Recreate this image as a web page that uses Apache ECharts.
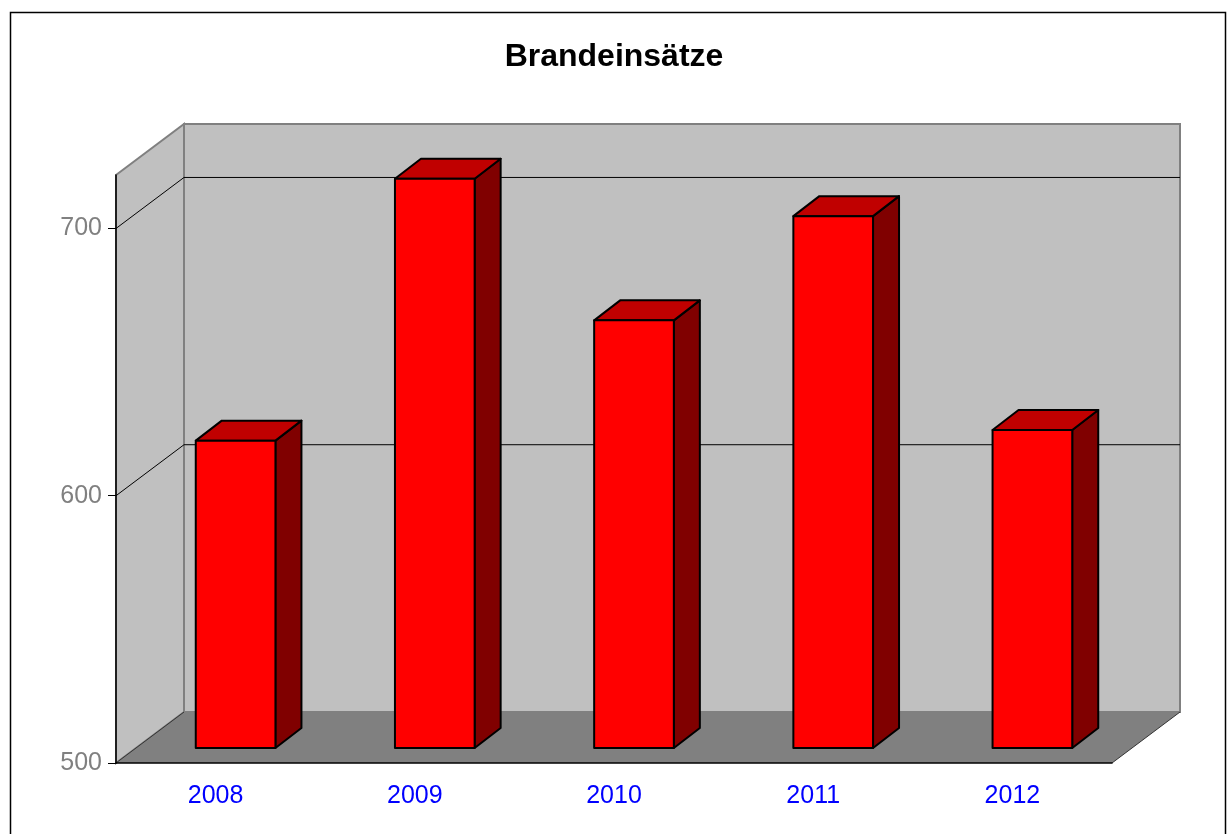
<!DOCTYPE html>
<html>
<head>
<meta charset="utf-8">
<script src="https://cdn.jsdelivr.net/npm/echarts@6/dist/echarts.min.js"></script>
<style>
html, body { margin: 0; padding: 0; background: #fff; }
#main { width: 1228px; height: 834px; }
</style>
</head>
<body>
<div id="main"></div>
<script>
var years = ['2008', '2009', '2010', '2011', '2012'];
var einsaetze = [615, 713, 660, 699, 619];
var yTicks = [500, 600, 700];
var yMin = 500, yMax = 720;

// depth of the 3d box (pixels)
var DX = 68, DY = -51;

function drawWalls(params, api)
{
    var cs = params.coordSys;
    var x0 = cs.x, x1 = cs.x + cs.width;
    var yT = cs.y, yB = cs.y + cs.height;
    var kids = [];
    // floor
    kids.push({type: 'polygon', shape: {points: [[x0, yB], [x1, yB], [x1 + DX, yB + DY], [x0 + DX, yB + DY]]},
        style: {fill: '#808080', stroke: null}});
    // left wall
    kids.push({type: 'polygon', shape: {points: [[x0, yT], [x0 + DX, yT + DY], [x0 + DX, yB + DY], [x0, yB]]},
        style: {fill: '#C0C0C0', stroke: '#808080', lineWidth: 2}});
    // back wall
    kids.push({type: 'rect', shape: {x: x0 + DX, y: yT + DY, width: cs.width, height: cs.height},
        style: {fill: '#C0C0C0', stroke: '#808080', lineWidth: 2}});
    // gridlines
    for (var i = 0; i < yTicks.length; i++) {
        if (yTicks[i] <= yMin) continue;
        var y = api.coord([0, yTicks[i]])[1];
        kids.push({type: 'line', shape: {x1: x0 + DX, y1: y + DY, x2: x1 + DX, y2: y + DY},
            style: {stroke: '#000', lineWidth: 1}});
        kids.push({type: 'line', shape: {x1: x0, y1: y, x2: x0 + DX, y2: y + DY},
            style: {stroke: '#000', lineWidth: 1}});
    }
    // floor edges
    kids.push({type: 'line', shape: {x1: x0, y1: yB, x2: x0 + DX, y2: yB + DY}, style: {stroke: '#333', lineWidth: 1}});
    kids.push({type: 'line', shape: {x1: x1, y1: yB, x2: x1 + DX, y2: yB + DY}, style: {stroke: '#333', lineWidth: 1}});
    return {type: 'group', children: kids};
}

function drawBar(params, api)
{
    var base = api.coord([api.value(0), yMin]);
    var top = api.coord([api.value(0), api.value(1)]);
    var bw = api.size([1, 0])[0];
    var w = bw * 0.4;
    var cx = base[0] + 20;
    var xl = cx - w / 2, xr = cx + w / 2;
    var yb = base[1] - 15, yt = top[1] - 15;
    var bx = 26, by = -20;
    var edge = {stroke: '#000', lineWidth: 2, lineJoin: 'round'};
    return {type: 'group', children: [
        {type: 'polygon', shape: {points: [[xr, yt], [xr + bx, yt + by], [xr + bx, yb + by], [xr, yb]]},
            style: Object.assign({fill: '#800000'}, edge)},
        {type: 'polygon', shape: {points: [[xl, yt], [xr, yt], [xr + bx, yt + by], [xl + bx, yt + by]]},
            style: Object.assign({fill: '#C00000'}, edge)},
        {type: 'rect', shape: {x: xl, y: yt, width: w, height: yb - yt},
            style: Object.assign({fill: '#FF0000'}, edge)}
    ]};
}

var myChart = echarts.init(document.getElementById('main'));
var option = {
    backgroundColor: '#fff',
    animation: false,
    title: {
        text: 'Brandeinsätze', left: 'center', top: 36,
        textStyle: {fontFamily: 'Liberation Sans, Arial', fontSize: 32, fontWeight: 'bold', color: '#000'}
    },
    graphic: [
        {type: 'rect', left: 8, top: 10, shape: {width: 1215, height: 840},
            style: {fill: null, stroke: '#000', lineWidth: 1.5}, z: 100}
    ],
    grid: {left: 116, right: 116, top: 175, bottom: 71, containLabel: false},
    xAxis: {
        type: 'category', data: years, boundaryGap: true,
        axisLine: {lineStyle: {color: '#000', width: 1.5}},
        axisTick: {length: 8, lineStyle: {color: '#606060'}},
        axisLabel: {color: '#0000FF', fontSize: 25, margin: 21, fontFamily: 'Liberation Sans, Arial'},
        splitLine: {show: false}
    },
    yAxis: {
        type: 'value', min: yMin, max: yMax, interval: 100,
        axisLine: {show: true, lineStyle: {color: '#000', width: 1.5}},
        axisTick: {show: true, length: 8, customValues: yTicks, lineStyle: {color: '#000'}},
        axisLabel: {color: '#808080', fontSize: 25, margin: 14, customValues: yTicks, fontFamily: 'Liberation Sans, Arial'},
        splitLine: {show: false}
    },
    series: [
        {type: 'custom', z: -1, clip: false, renderItem: drawWalls, data: [[0, yMin]], silent: true},
        {type: 'custom', z: 2, clip: false, renderItem: drawBar,
            data: einsaetze.map(function (v, i) { return [i, v]; })}
    ]
};
myChart.setOption(option);
</script>
</body>
</html>
